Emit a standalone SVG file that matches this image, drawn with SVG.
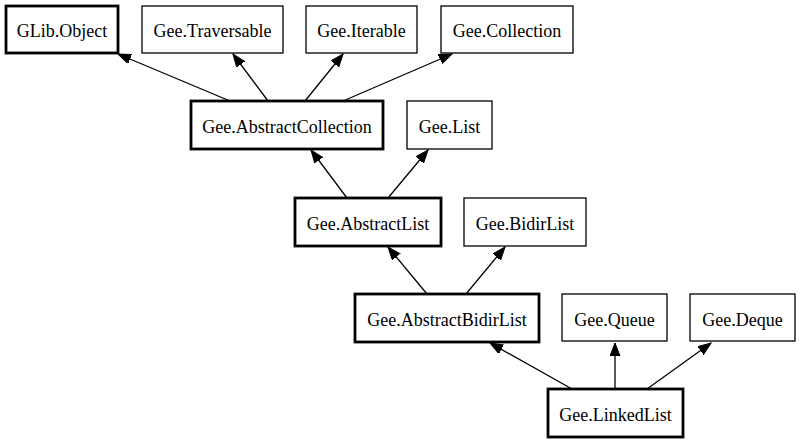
<svg xmlns="http://www.w3.org/2000/svg" width="800" height="443" viewBox="0 0 800 443">
<style>
.n rect{fill:#fff;stroke:#000;stroke-width:1.3}
.n.b rect{stroke-width:2.8}
.n text{font-family:"Liberation Serif","Times New Roman",serif;font-size:18px;text-anchor:middle;fill:#000}
#edges line{stroke:#000;stroke-width:1.3;marker-end:url(#ah)}
</style>
<defs>
<marker id="ah" markerUnits="userSpaceOnUse" markerWidth="14" markerHeight="11" refX="13" refY="5" orient="auto">
<path d="M0,0 L13,5 L0,10 z" fill="#000" stroke="#000" stroke-width="1"/>
</marker>
</defs>
<rect width="800" height="443" fill="#fff"/>
<g id="edges">
<line x1="230" y1="101" x2="118" y2="54"/>
<line x1="268" y1="101" x2="233" y2="54"/>
<line x1="305" y1="101" x2="343" y2="54"/>
<line x1="343" y1="101" x2="452" y2="54"/>
<line x1="347" y1="198" x2="311" y2="150"/>
<line x1="388" y1="198" x2="428" y2="150"/>
<line x1="427" y1="294" x2="388" y2="247"/>
<line x1="466" y1="294" x2="505" y2="247"/>
<line x1="572" y1="389" x2="490" y2="343"/>
<line x1="615" y1="389" x2="615" y2="343"/>
<line x1="647" y1="389" x2="711" y2="343"/>
</g>
<g font-family="Liberation Serif, Times New Roman, serif">
<g id="glib-object" class="n b"><rect x="6" y="6" width="112" height="47"/><text x="62" y="37">GLib.Object</text></g>
<g id="gee-traversable" class="n"><rect x="142" y="6" width="141" height="47"/><text x="212.5" y="37">Gee.Traversable</text></g>
<g id="gee-iterable" class="n"><rect x="306" y="6" width="111" height="47"/><text x="361.5" y="37">Gee.Iterable</text></g>
<g id="gee-collection" class="n"><rect x="441" y="6" width="132" height="47"/><text x="507" y="37">Gee.Collection</text></g>
<g id="gee-abstractcollection" class="n b"><rect x="191" y="101" width="192" height="48"/><text x="287" y="132.5">Gee.AbstractCollection</text></g>
<g id="gee-list" class="n"><rect x="407" y="101" width="85" height="48"/><text x="449.5" y="132.5">Gee.List</text></g>
<g id="gee-abstractlist" class="n b"><rect x="295" y="198" width="146" height="48"/><text x="368" y="229.5">Gee.AbstractList</text></g>
<g id="gee-bidirlist" class="n"><rect x="464" y="198" width="122" height="48"/><text x="525" y="229.5">Gee.BidirList</text></g>
<g id="gee-abstractbidirlist" class="n b"><rect x="355" y="294" width="184" height="48"/><text x="447" y="325.5">Gee.AbstractBidirList</text></g>
<g id="gee-queue" class="n"><rect x="562" y="294" width="105" height="47"/><text x="614.5" y="325.5">Gee.Queue</text></g>
<g id="gee-deque" class="n"><rect x="690" y="294" width="105" height="47"/><text x="742.5" y="325.5">Gee.Deque</text></g>
<g id="gee-linkedlist" class="n b"><rect x="548" y="389" width="135" height="48"/><text x="615.5" y="420.5">Gee.LinkedList</text></g>
</g>
</svg>
